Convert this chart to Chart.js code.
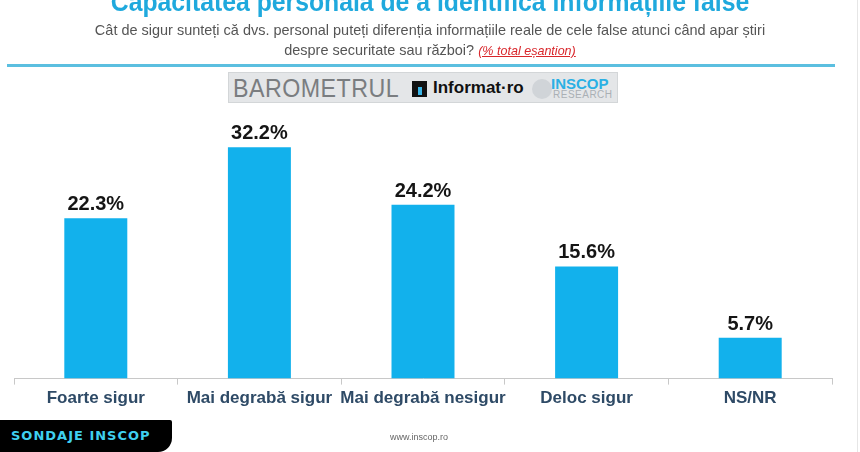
<!DOCTYPE html>
<html>
<head>
<meta charset="utf-8">
<script src="https://cdn.jsdelivr.net/npm/chart.js@4/dist/chart.umd.min.js"></script>
<style>
  html, body { margin: 0; padding: 0; background: #fff; }
  body { width: 860px; height: 452px; position: relative; overflow: hidden; font-family: "Liberation Sans", Arial, sans-serif; }
  #titlu { position: absolute; left: 0; width: 860px; top: -13px; text-align: center; color: #1fa9dd; font-weight: bold; font-size: 27px; transform: scaleX(0.917); }
  .sub { position: absolute; left: 0; width: 860px; text-align: center; color: #555; font-size: 15px; line-height: 20px; transform: scaleX(0.965); }
  .sub .rosu { color: #d9262b; font-style: italic; text-decoration: underline; font-size: 13px; }
  #linie { position: absolute; left: 7px; width: 828px; top: 64px; height: 3px; background: #5bbfe0; }
  #logo { position: absolute; left: 228px; top: 72px; width: 390px; height: 31px; background: #e4e6e8; border: 1px solid #d3d6d8; box-sizing: border-box; }
  #logo .bar { position: absolute; left: 4px; top: 1px; font-size: 25px; color: #7a7d80; letter-spacing: 0.5px; transform: scaleX(0.93); transform-origin: left center; }
  #logo .ico { position: absolute; left: 183px; top: 8px; width: 15px; height: 16px; background: #111; }
  #logo .ico i { position: absolute; left: 6px; top: 6px; width: 4px; height: 8px; background: #3ab5e6; }
  #logo .inf { position: absolute; left: 204px; top: 5px; font-size: 17px; font-weight: bold; color: #111; }
  #logo .ins { position: absolute; left: 322px; top: 2px; font-size: 15px; font-weight: bold; color: #2ab0e4; }
  #logo .res { position: absolute; left: 324px; top: 16px; font-size: 10px; color: #aab0b5; letter-spacing: 0.5px; }
  #logo .cerc { position: absolute; left: 303px; top: 6px; width: 20px; height: 20px; border-radius: 50%; background: #d0d4d8; }
  #grafic { position: absolute; left: 0; top: 0; }
  #sondaje { position: absolute; left: 0; top: 420px; width: 172px; height: 32px; background: #000; border-bottom-right-radius: 14px; border-top-right-radius: 2px; color: #3fd0f0; font-weight: bold; font-size: 13px; letter-spacing: 1px; line-height: 32px; padding-left: 11px; box-sizing: border-box; font-family: "DejaVu Sans", sans-serif; }
  #www { position: absolute; left: 390px; top: 432px; font-size: 9px; color: #666; }
  #margine { position: absolute; left: 857px; top: 0; width: 1px; height: 452px; background: #e6e6e6; }
</style>
</head>
<body>
<canvas id="grafic" width="860" height="452"></canvas>
<div id="titlu">Capacitatea personala de a identifica informațiile false</div>
<div class="sub" style="top:20px">Cât de sigur sunteți că dvs. personal puteți diferenția informațiile reale de cele false atunci când apar știri</div>
<div class="sub" style="top:40px">despre securitate sau război? <span class="rosu">(% total eșantion)</span></div>
<div id="linie"></div>
<div id="logo">
  <span class="bar">BAROMETRUL</span>
  <span class="ico"><i></i></span>
  <span class="inf">Informat·ro</span>
  <span class="cerc"></span>
  <span class="ins">INSCOP</span>
  <span class="res">RESEARCH</span>
</div>
<div id="sondaje">SONDAJE INSCOP</div>
<div id="www">www.inscop.ro</div>
<div id="margine"></div>
<script>
// --- DATE ---
const categorii = ['Foarte sigur', 'Mai degrabă sigur', 'Mai degrabă nesigur', 'Deloc sigur', 'NS/NR'];
const procente = [22.3, 32.2, 24.2, 15.6, 5.7];

// --- ETICHETE DEASUPRA BARELOR ---
const eticheteValori = {
    id: 'eticheteValori',
    afterDatasetsDraw(chart) {
        const c = chart.ctx;
        const bare = chart.getDatasetMeta(0).data;
        c.save();
        c.fillStyle = '#151515';
        c.font = 'bold 20px "Liberation Sans", Arial, sans-serif';
        c.textAlign = 'center';
        c.textBaseline = 'alphabetic';
        bare.forEach((bara, i) => {
            c.fillText(procente[i].toFixed(1) + '%', bara.x, bara.y - 8);
        });
        c.restore();
    }
};

const ctx = document.getElementById('grafic').getContext('2d');
new Chart(ctx, {
    type: 'bar',
    data: {
        labels: categorii,
        datasets: [{
            data: procente,
            backgroundColor: '#12b1ec',
            barPercentage: 0.77,
            categoryPercentage: 0.5
        }]
    },
    options: {
        responsive: false,
        animation: false,
        layout: { padding: { left: 14, right: 28, top: 108, bottom: 39 } },
        plugins: { legend: { display: false }, tooltip: { enabled: false } },
        scales: {
            x: {
                grid: { display: true, drawOnChartArea: false, drawTicks: true, tickLength: 6, color: '#c8c8c8' },
                border: { display: true, color: '#c8c8c8', width: 1 },
                ticks: {
                    color: '#2e4a66',
                    padding: 4,
                    maxRotation: 0,
                    minRotation: 0,
                    autoSkip: false,
                    font: { size: 17, family: '"Liberation Sans", sans-serif', weight: 'bold' }
                }
            },
            y: {
                display: false,
                min: 0,
                max: 37.65
            }
        }
    },
    plugins: [eticheteValori]
});
</script>
</body>
</html>
